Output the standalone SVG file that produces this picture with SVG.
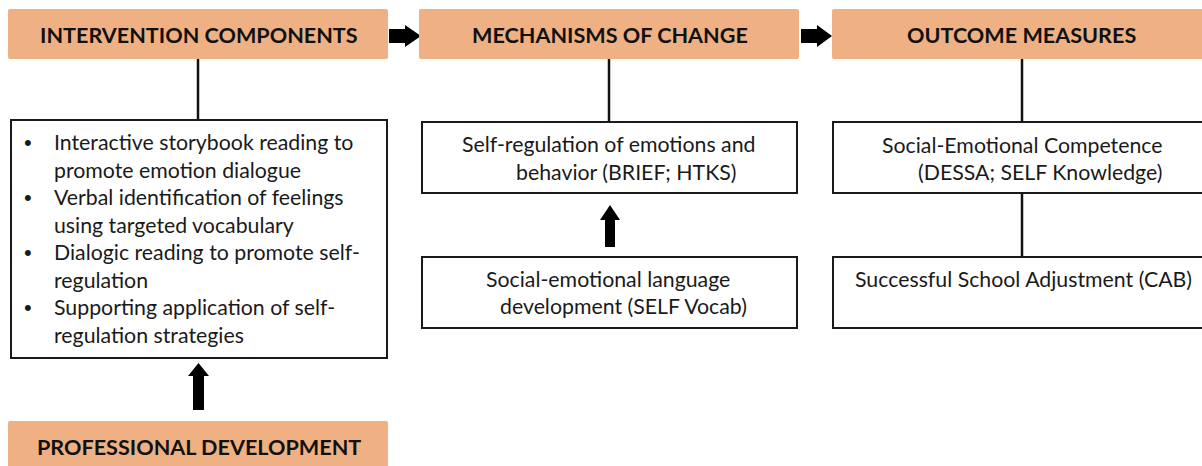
<svg xmlns="http://www.w3.org/2000/svg" width="1202" height="466" viewBox="0 0 1202 466">
  <style>
    .hdr { fill: #EFB183; }
    .hdr-t { font-family: Lato, "Liberation Sans", sans-serif; font-weight: bold; font-size: 21.6px; fill: #111; }
    .box { fill: #fff; stroke: #1a1a1a; stroke-width: 2; }
    .txt { font-family: Lato, "Liberation Sans", sans-serif; font-size: 21.3px; fill: #1a1a1a; }
    .bul { font-family: "Liberation Sans", sans-serif; font-size: 22px; fill: #1a1a1a; }
    .link { stroke: #111; stroke-width: 2.5; fill: none; }
    .blk { fill: #000; }
  </style>
  <rect width="1202" height="466" fill="#fff"/>

  <!-- connectors -->
  <g id="connectors">
    <line class="link" x1="198" y1="59" x2="198" y2="120"/>
    <line class="link" x1="609" y1="59" x2="609" y2="122"/>
    <line class="link" x1="1022" y1="59" x2="1022" y2="122"/>
    <line class="link" x1="1022" y1="193" x2="1022" y2="257"/>
    <!-- block arrows -->
    <polygon class="blk" points="389,29 405,29 405,25 421,36 405,47 405,43 389,43"/>
    <polygon class="blk" points="801,29 817,29 817,25 832,36 817,47 817,43 801,43"/>
    <polygon class="blk" points="605,247 615,247 615,220 620,220 610,205 600,220 605,220"/>
    <polygon class="blk" points="193,410 204,410 204,376 209,376 198.5,363 188,376 193,376"/>
  </g>

  <g id="intervention-components">
    <rect class="hdr" x="8" y="9" width="380" height="50" rx="2"/>
    <text class="hdr-t" x="40" y="43">INTERVENTION COMPONENTS</text>
  </g>

  <g id="mechanisms-of-change">
    <rect class="hdr" x="419" y="9" width="380" height="50" rx="2"/>
    <text class="hdr-t" x="472" y="43">MECHANISMS OF CHANGE</text>
  </g>

  <g id="outcome-measures">
    <rect class="hdr" x="832" y="9" width="380" height="50" rx="2"/>
    <text class="hdr-t" x="907" y="43">OUTCOME MEASURES</text>
  </g>

  <g id="components-list">
    <rect class="box" x="11" y="120" width="376" height="238"/>
    <g class="bul">
      <text x="24" y="150">•</text>
      <text x="24" y="205.1">•</text>
      <text x="24" y="260.3">•</text>
      <text x="24" y="315.4">•</text>
    </g>
    <g class="txt">
      <text x="54" y="150">Interactive storybook reading to</text>
      <text x="54" y="177.6">promote emotion dialogue</text>
      <text x="54" y="205.1">Verbal identification of feelings</text>
      <text x="54" y="232.7">using targeted vocabulary</text>
      <text x="54" y="260.3">Dialogic reading to promote self-</text>
      <text x="54" y="287.9">regulation</text>
      <text x="54" y="315.4">Supporting application of self-</text>
      <text x="54" y="343">regulation strategies</text>
    </g>
  </g>

  <g id="self-regulation">
    <rect class="box" x="422" y="122" width="375" height="71"/>
    <text class="txt" x="462" y="152">Self-regulation of emotions and</text>
    <text class="txt" x="516" y="180">behavior (BRIEF; HTKS)</text>
  </g>

  <g id="language-development">
    <rect class="box" x="422" y="257" width="375" height="71"/>
    <text class="txt" x="486" y="287">Social-emotional language</text>
    <text class="txt" x="500" y="314">development (SELF Vocab)</text>
  </g>

  <g id="social-emotional-competence">
    <rect class="box" x="833" y="122" width="380" height="71"/>
    <text class="txt" x="882" y="153">Social-Emotional Competence</text>
    <text class="txt" x="918" y="180">(DESSA; SELF Knowledge)</text>
  </g>

  <g id="school-adjustment">
    <rect class="box" x="833" y="257" width="380" height="71"/>
    <text class="txt" x="855" y="287">Successful School Adjustment (CAB)</text>
  </g>

  <g id="professional-development">
    <rect class="hdr" x="8" y="421" width="380" height="50" rx="2"/>
    <text class="hdr-t" x="37" y="455">PROFESSIONAL DEVELOPMENT</text>
  </g>
</svg>
